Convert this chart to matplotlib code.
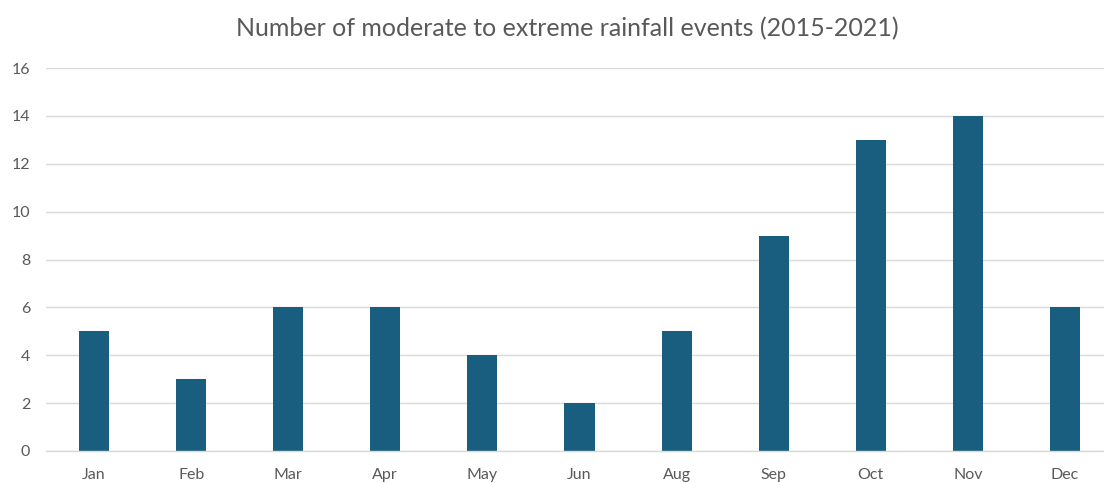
import matplotlib
matplotlib.use("Agg")
import matplotlib.pyplot as plt
import numpy as np

months = ["Jan", "Feb", "Mar", "Apr", "May", "Jun", "Aug", "Sep", "Oct", "Nov", "Dec"]
events = [5, 3, 6, 6, 4, 2, 5, 9, 13, 14, 6]
y_ticks = [0, 2, 4, 6, 8, 10, 12, 14, 16]

plt.rcParams["font.family"] = ["Lato", "DejaVu Sans"]
text_color = "#595959"
grid_color = "#d9d9d9"
bar_color = "#1a5e7f"

W, H, DPI = 1104, 483, 100
fig = plt.figure(figsize=(W / DPI, H / DPI), dpi=DPI)
left, right, bottom, top = 45.5, 1113.5, 451, 68
ax = fig.add_axes([left / W, 1 - bottom / H, (right - left) / W, (bottom - top) / H])

x = np.arange(len(months))
ax.bar(x, events, width=0.31, color=bar_color, zorder=3)

ax.set_xlim(-0.5, len(months) - 0.5)
ax.set_ylim(0, 16)
ax.set_yticks(y_ticks)
ax.set_xticks(x)
ax.set_xticklabels(months)

ax.grid(axis="y", color=grid_color, linewidth=1.0, zorder=0)
ax.set_axisbelow(True)
for side in ["top", "right", "left"]:
    ax.spines[side].set_visible(False)
ax.spines["bottom"].set_color(grid_color)
ax.spines["bottom"].set_linewidth(1.0)
ax.spines["bottom"].set_zorder(4)

ax.tick_params(axis="both", length=0, labelsize=11.5, labelcolor=text_color)
ax.tick_params(axis="y", pad=11)
ax.tick_params(axis="x", pad=12)

fig.text(567 / W, 1 - 29 / H, "Number of moderate to extreme rainfall events (2015-2021)",
         ha="center", va="center", fontsize=18, color=text_color)

fig.savefig("out.png", dpi=DPI, facecolor="white")
